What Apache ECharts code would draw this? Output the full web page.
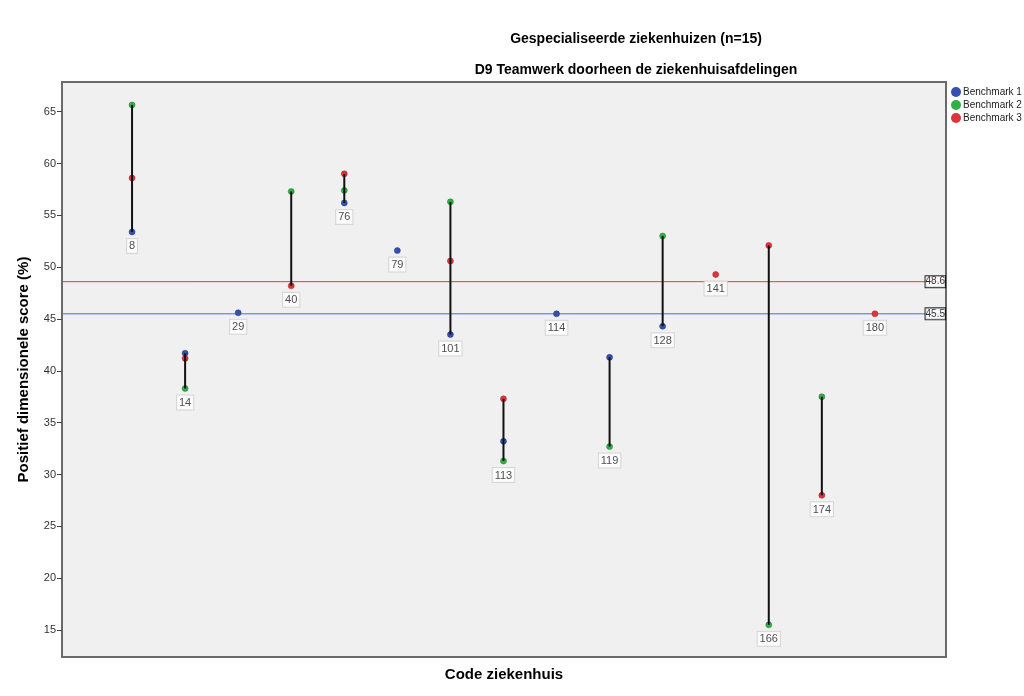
<!DOCTYPE html>
<html>
<head>
<meta charset="utf-8">
<script src="https://cdn.jsdelivr.net/npm/echarts@6/dist/echarts.min.js"></script>
<style>
html,body{margin:0;padding:0;background:#fff;}
#chart{width:1024px;height:696px;}
</style>
</head>
<body>
<div id="chart"></div>
<script>
const codes = ['8','14','29','40','76','79','101','113','114','119','128','141','166','174','180'];
const bench1 = [53.4, 41.7, 45.6, null, 56.2, 51.6, 43.5, 33.2, 45.5, 41.3, 44.3, null, null, null, null];
const bench2 = [65.65, 38.3, null, 57.3, 57.4, null, 56.3, 31.3, null, 32.7, 53.0, null, 15.5, 37.5, null];
const bench3 = [58.6, 41.2, null, 48.2, 59.0, null, 50.6, 37.3, null, null, null, 49.3, 52.1, 28.0, 45.5];
const refBench1 = 45.5;
const refBench3 = 48.6;
const yTicks = [15, 20, 25, 30, 35, 40, 45, 50, 55, 60, 65];

const FONT = '"Liberation Sans", Arial, sans-serif';
const cBlue = '#3450b0', cGreen = '#2fb043', cRed = '#e0343c';

function pts(arr){ const out=[]; arr.forEach((v,i)=>{ if(v!==null) out.push([i,v]); }); return out; }

const ranges = [], labelPts = [];
codes.forEach((c,i)=>{
  const vals=[bench1[i],bench2[i],bench3[i]].filter(v=>v!==null);
  const lo=Math.min(...vals), hi=Math.max(...vals);
  if(vals.length>1) ranges.push([i,lo,hi]);
  labelPts.push({value:[i,lo], name:c});
});

const xMin=-1.32, xMax=15.34;
const chart = echarts.init(document.getElementById('chart'));
chart.setOption({
  animation:false,
  textStyle:{fontFamily:FONT},
  title:[
    {text:'Gespecialiseerde ziekenhuizen (n=15)', left:631, top:27, textAlign:'center',
     textStyle:{fontFamily:FONT, fontSize:14, fontWeight:'bold', color:'#000'}},
    {text:'D9 Teamwerk doorheen de ziekenhuisafdelingen', left:631, top:58, textAlign:'center',
     textStyle:{fontFamily:FONT, fontSize:14, fontWeight:'bold', color:'#000'}}
  ],
  legend:{
    data:['Benchmark 1','Benchmark 2','Benchmark 3'],
    orient:'vertical', left:946, top:82, itemWidth:10, itemHeight:10, itemGap:3, icon:'circle',
    itemStyle:{borderWidth:0, opacity:1},
    textStyle:{fontFamily:FONT, fontSize:10, color:'#222', padding:[0,0,0,-3]}
  },
  grid:{left:62, right:78, top:82, bottom:39, show:true, backgroundColor:'#f0f0f0', borderColor:'#6a6a6a', borderWidth:2},
  xAxis:{
    type:'value', min:xMin, max:xMax,
    name:'Code ziekenhuis', nameLocation:'middle', nameGap:10,
    nameTextStyle:{fontFamily:FONT, fontSize:15, fontWeight:'bold', color:'#000'},
    axisLine:{show:false}, axisTick:{show:false}, axisLabel:{show:false}, splitLine:{show:false}
  },
  yAxis:{
    type:'value', min:12.4, max:67.86, interval:5,
    name:'Positief dimensionele score (%)', nameLocation:'middle', nameGap:31,
    nameTextStyle:{fontFamily:FONT, fontSize:15, fontWeight:'bold', color:'#000'},
    axisLine:{show:true, onZero:false, lineStyle:{color:'#6a6a6a', width:2}},
    axisTick:{show:true, length:5, lineStyle:{color:'#444'}, customValues: yTicks},
    axisLabel:{fontFamily:FONT, fontSize:11, color:'#333', margin:6, customValues: yTicks},
    splitLine:{show:false}
  },
  series:[
    {name:'ref3', type:'line', z:2, silent:true, symbol:'none',
     data:[[xMin,refBench3],[xMax,refBench3]],
     lineStyle:{color:'#d8404e', width:1}},
    {name:'ref1', type:'line', z:2, silent:true, symbol:'none',
     data:[[xMin,refBench1],[xMax,refBench1]],
     lineStyle:{color:'#4f6bd0', width:1}},
    {name:'Benchmark 1', type:'scatter', data:pts(bench1), symbolSize:6, z:3,
     itemStyle:{color:cBlue, borderColor:'#25377a', borderWidth:0.5, opacity:1}},
    {name:'Benchmark 2', type:'scatter', data:pts(bench2), symbolSize:6, z:3,
     itemStyle:{color:cGreen, borderColor:'#1f7a2c', borderWidth:0.5, opacity:1}},
    {name:'Benchmark 3', type:'scatter', data:pts(bench3), symbolSize:6, z:3,
     itemStyle:{color:cRed, borderColor:'#9a2226', borderWidth:0.5, opacity:1}},
    {name:'range', type:'custom', data:ranges, z:4,
     renderItem:function(params, api){
       const p1=api.coord([api.value(0),api.value(1)]);
       const p2=api.coord([api.value(0),api.value(2)]);
       return {type:'line', shape:{x1:p1[0],y1:p1[1],x2:p2[0],y2:p2[1]}, style:{stroke:'#111', lineWidth:2}};
     }},
    {name:'codes', type:'scatter', data:labelPts, symbolSize:0, z:5, silent:true,
     label:{show:true, position:'bottom', distance:7, formatter:p=>p.name,
       fontFamily:FONT, fontSize:11, color:'#222', backgroundColor:'#fff',
       borderColor:'#d0d0d0', borderWidth:1, padding:[2,2,1,2]}},
    {name:'refLabels', type:'scatter', symbolSize:0, z:6, silent:true,
     data:[{value:[xMax,refBench3], name:'48.6'},{value:[xMax,refBench1], name:'45.5'}],
     label:{show:true, position:'left', distance:1, formatter:p=>p.name,
       fontFamily:FONT, fontSize:10, color:'#000', backgroundColor:'#fff',
       borderColor:'#000', borderWidth:1, padding:[1,0,0,0]}}
  ]
});
</script>
</body>
</html>
